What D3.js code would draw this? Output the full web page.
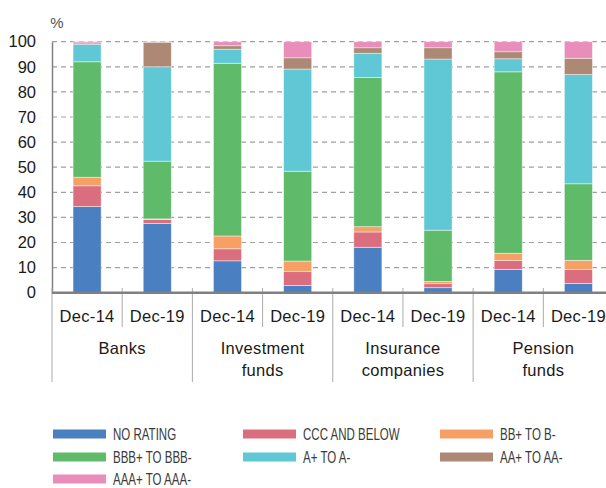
<!DOCTYPE html>
<html>
<head>
<meta charset="utf-8">
<script src="https://cdn.jsdelivr.net/npm/d3@7"></script>
<style>
  body { margin: 0; background: #fff; }
  svg { display: block; font-family: "Liberation Sans", Arial, Helvetica, sans-serif; }
</style>
</head>
<body>
<svg id="chart"></svg>
<script>
var width = 606, height = 488;

// categories
var groups = ["Banks", "Investment\nfunds", "Insurance\ncompanies", "Pension\nfunds"];
var dates = ["Dec-14", "Dec-19"];
var yTicks = [0, 10, 20, 30, 40, 50, 60, 70, 80, 90, 100];

// series (one value per bar, bar order: group x date)
var seriesNames = ["NO RATING", "CCC AND BELOW", "BB+ TO B-", "BBB+ TO BBB-", "A+ TO A-", "AA+ TO AA-", "AAA+ TO AAA-"];
var seriesColors = ["#4a7fc1", "#db6e7e", "#f6a066", "#5fbb6a", "#60c8d5", "#ad8874", "#e98dbb"];
var noRating   = [34.3, 27.6, 12.7,  2.9, 18.1,  2.0,  9.3,  3.7];
var cccBelow   = [ 8.3,  1.6,  4.8,  5.5,  6.1,  1.6,  3.5,  5.5];
var bbToB      = [ 3.4,  0.2,  5.1,  4.2,  2.1,  0.9,  2.9,  3.7];
var bbbToBbb   = [46.0, 23.0, 68.8, 35.8, 59.4, 20.4, 72.3, 30.5];
var aToA       = [ 7.0, 37.6,  5.6, 40.7,  9.7, 68.2,  5.2, 43.5];
var aaToAa     = [ 0.5,  9.8,  1.4,  4.5,  2.2,  4.5,  2.8,  6.5];
var aaaToAaa   = [ 0.5,  0.2,  1.6,  6.4,  2.4,  2.4,  4.0,  6.6];
var seriesValues = [noRating, cccBelow, bbToB, bbbToBbb, aToA, aaToAa, aaaToAaa];

// build table for d3.stack
var rows = [];
groups.forEach(function(g, gi) {
    dates.forEach(function(d, di) {
        var i = gi * dates.length + di;
        var row = { key: g + "|" + d, group: g, date: d };
        seriesNames.forEach(function(s, si) { row[s] = seriesValues[si][i]; });
        rows.push(row);
    });
});

var svg = d3.select("#chart").attr("width", width).attr("height", height);

var x = d3.scaleBand()
          .domain(rows.map(function(r) { return r.key; }))
          .range([52, 613.5])
          .padding(0);
var barW = x.bandwidth() * 0.4;

var y = d3.scaleLinear().domain([0, 100]).range([292.7, 41.7]);

// gridlines
svg.append("g")
   .selectAll("line")
   .data(yTicks.filter(function(t) { return t > 0; }))
   .enter().append("line")
   .attr("x1", 52).attr("x2", width)
   .attr("y1", function(d) { return y(d); })
   .attr("y2", function(d) { return y(d); })
   .attr("stroke", "#a0a0a0")
   .attr("stroke-width", 1.2)
   .attr("stroke-dasharray", "5,4");

// stacked bars
var stack = d3.stack().keys(seriesNames);
var stacked = stack(rows);

svg.append("g")
   .selectAll("g")
   .data(stacked)
   .enter().append("g")
   .attr("fill", function(d, i) { return seriesColors[i]; })
   .selectAll("rect")
   .data(function(d) { return d; })
   .enter().append("rect")
   .attr("x", function(d) { return x(d.data.key) + (x.bandwidth() - barW) / 2; })
   .attr("width", barW)
   .attr("y", function(d) { return y(d[1]); })
   .attr("height", function(d) { return Math.max(0, y(d[0]) - y(d[1])); })
   .attr("stroke", "rgba(255,255,255,0.55)")
   .attr("stroke-width", 0.8);

// y axis
var yAxis = d3.axisLeft(y).tickValues(yTicks).tickSize(0).tickPadding(16);
var yg = svg.append("g").attr("transform", "translate(52,0)").call(yAxis);
yg.select(".domain").attr("stroke", "#808080").attr("stroke-width", 1.5);
yg.selectAll("text").attr("font-size", 16.5).attr("fill", "#1a1a1a")
  .attr("font-family", "'Liberation Sans', Arial, sans-serif");

svg.append("text").attr("x", 57).attr("y", 28)
   .attr("text-anchor", "middle").attr("font-size", 15).attr("fill", "#555")
   .text("%");

// category separators below axis
var sepG = svg.append("g").attr("stroke", "#aaaaaa").attr("stroke-width", 1);
rows.forEach(function(r, i) {
    var xs = x(r.key);
    if (i === 0) return;
    var isGroup = (i % dates.length === 0);
    sepG.append("line")
        .attr("x1", xs).attr("x2", xs)
        .attr("y1", 288).attr("y2", isGroup ? 382 : 327);
});
sepG.append("line").attr("x1", 52).attr("x2", 52).attr("y1", 288).attr("y2", 382);

// x axis line
svg.append("line")
   .attr("x1", 52).attr("x2", width)
   .attr("y1", y(0)).attr("y2", y(0))
   .attr("stroke", "#808080").attr("stroke-width", 2.5);

// date labels
svg.append("g")
   .selectAll("text")
   .data(rows)
   .enter().append("text")
   .attr("x", function(d) { return x(d.key) + x.bandwidth() / 2; })
   .attr("y", 321.5)
   .attr("text-anchor", "middle")
   .attr("font-size", 16.5).attr("letter-spacing", 0.3).attr("fill", "#1a1a1a")
   .text(function(d) { return d.date; });

// group labels
var gText = svg.append("g")
   .selectAll("text")
   .data(groups)
   .enter().append("text")
   .attr("x", function(d, i) {
       var k0 = rows[i * dates.length].key;
       return x(k0) + x.bandwidth() * dates.length / 2;
   })
   .attr("text-anchor", "middle")
   .attr("font-size", 16.5).attr("letter-spacing", 0.3).attr("fill", "#1a1a1a");
gText.each(function(d) {
    var lines = d.split("\n");
    var t = d3.select(this);
    lines.forEach(function(l, li) {
        t.append("tspan").attr("x", t.attr("x")).attr("y", 354 + li * 22).text(l);
    });
});

// legend
var legendCols = [53, 243, 440];
var legendRows = [434, 457, 479];
var legend = svg.append("g").attr("class", "legend")
   .selectAll("g")
   .data(seriesNames)
   .enter().append("g")
   .attr("transform", function(d, i) {
       return "translate(" + legendCols[i % 3] + "," + legendRows[Math.floor(i / 3)] + ")";
   });
legend.append("rect")
   .attr("x", 0).attr("y", -4.5).attr("width", 53).attr("height", 9)
   .attr("fill", function(d, i) { return seriesColors[i]; });
legend.append("text")
   .attr("transform", "translate(60,5.5) scale(0.72,1)")
   .attr("font-size", 16).attr("fill", "#3a3a3a")
   .text(function(d) { return d; });
</script>
</body>
</html>
